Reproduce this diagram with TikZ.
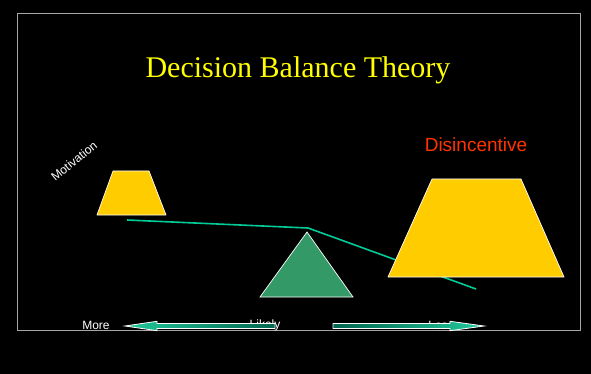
\documentclass[tikz,border=0pt]{standalone}
\usepackage{fontspec}
\setmainfont{Liberation Serif}
\newfontfamily\arialfont{Liberation Sans}
\definecolor{gold}{HTML}{FFCC00}
\definecolor{beam}{HTML}{00CC99}
\definecolor{fulcrum}{HTML}{339966}
\definecolor{titleyellow}{HTML}{FFFF00}
\definecolor{disred}{HTML}{FF3300}
\definecolor{arrowbright}{HTML}{22C99A}
\definecolor{arrowdark}{HTML}{00664F}
\tikzset{
  weight/.style={fill=gold, draw=white, line width=0.7pt, line join=round},
  smalltext/.style={text=white, font=\arialfont\fontsize{12}{14}\selectfont, inner sep=0pt},
  blockarrow/.style={draw=white, line width=0.8pt}
}
\begin{document}
\begin{tikzpicture}[x=1pt,y=-1pt]
\useasboundingbox (0,0) rectangle (591,374);
\fill[black] (0,0) rectangle (591,374);
\draw[gray!70!white, line width=0.8pt] (17.5,13.5) rectangle (580.5,330.5);
% title
\node[text=titleyellow, font=\fontsize{30}{34}\selectfont, inner sep=0pt] (title) at (298,70) {Decision Balance Theory};
% beam
\coordinate (bl) at (127,220);
\coordinate (bm) at (308,228);
\coordinate (br) at (476,289);
\draw[beam, line width=1.6pt] (bl) -- (bm) -- (br);
% small weight
\filldraw[weight] (113,171) -- (149,171) -- (166,215) -- (97,215) -- cycle;
% large weight
\filldraw[weight] (432,179) -- (521,179) -- (564,277) -- (388,277) -- cycle;
% fulcrum
\filldraw[fill=fulcrum, draw=white, line width=0.7pt] (307,232) -- (353,297) -- (260,297) -- cycle;
% labels
\node[smalltext, rotate=39] (motiv) at (74,161) {Motivation};
\node[text=disred, font=\arialfont\fontsize{19}{22}\selectfont, inner sep=0pt] (dis) at (476,145) {Disincentive};
\node[smalltext] (more) at (96,325) {More};
\node[smalltext] (likely) at (265,325) {Likely};
\node[smalltext] (less) at (441,325) {Less};
% left arrow
\shadedraw[blockarrow, left color=arrowbright, right color=arrowdark]
  (125,326) -- (157,321.3) -- (157,323.5) -- (275,323.5) -- (275,328.5) -- (157,328.5) -- (157,330.7) -- cycle;
% right arrow
\shadedraw[blockarrow, left color=arrowdark, right color=arrowbright]
  (484,326) -- (450,321.3) -- (450,323.5) -- (333,323.5) -- (333,328.5) -- (450,328.5) -- (450,330.7) -- cycle;
\end{tikzpicture}
\end{document}
